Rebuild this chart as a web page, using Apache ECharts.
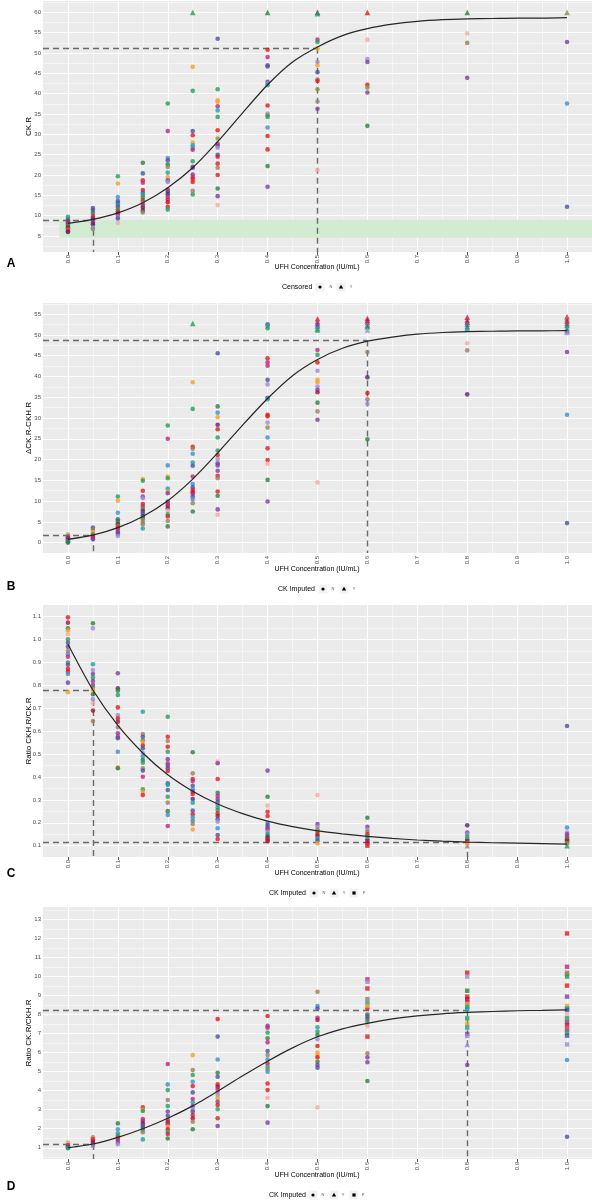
<!DOCTYPE html>
<html><head><meta charset="utf-8">
<script src="https://cdn.jsdelivr.net/npm/echarts@6/dist/echarts.min.js"></script>
<style>html,body{margin:0;padding:0;background:#fff}#c{width:592px;height:1200px}</style>
</head><body><div id="c"></div>
<script>
// ---------- colours (style) ----------
const palette = {r:'#E41A1C', R:'#A8123E', g:'#1FA05A', G:'#2A7F3E', t:'#1AA3A0', b:'#3B8ED3', n:'#4852A3', p:'#7A3E9D', l:'#9E8BD3', m:'#C2257A', o:'#F5A023', k:'#F7A8A8', w:'#A07A5C', v:'#8A8F3C', d:'#55286F', y:'#8C8C8C'};

// ---------- shared axis ----------
const xTicks = [0.0,0.1,0.2,0.3,0.4,0.5,0.6,0.7,0.8,0.9,1.0];
const xMinor = [0.05,0.15,0.25,0.35,0.45,0.55,0.65,0.75,0.85,0.95];
const xCurve = [0,0.05,0.1,0.15,0.2,0.25,0.3,0.35,0.4,0.45,0.5,0.55,0.6,0.65,0.7,0.75,0.8,0.85,0.9,0.95,1.0];

// ---------- Panel A : CK.R ----------
const aYTicks = [5,10,15,20,25,30,35,40,45,50,55,60];
const aYMinor = [2.5,7.5,12.5,17.5,22.5,27.5,32.5,37.5,42.5,47.5,52.5,57.5,62.5];
const aCurve = [8.1,9.1,10.7,13.2,16.9,21.8,28.2,35.3,42.2,47.8,51.5,54.3,56.0,57.1,57.8,58.2,58.4,58.5,58.6,58.6,58.7];
const aPoints = [
 [0,9.7,'g'],[0,9.2,'t'],[0,8.8,'p'],[0,8.5,'r'],[0,8.3,'n'],[0,8.0,'p'],[0,7.8,'m'],[0,7.5,'g'],[0,7.2,'G'],[0,7.0,'R'],[0,6.8,'r'],[0,6.5,'w'],[0,6.2,'r'],[0,6.0,'d'],
 [0.05,11.9,'n'],[0.05,11.4,'n'],[0.05,10.7,'G'],[0.05,9.9,'r'],[0.05,9.5,'p'],[0.05,9.1,'R'],[0.05,8.8,'m'],[0.05,8.3,'p'],[0.05,7.9,'d'],[0.05,7.0,'y'],[0.05,6.7,'y'],
 [0.1,19.7,'g'],[0.1,17.9,'o'],[0.1,14.6,'b'],[0.1,13.6,'n'],[0.1,13.1,'n'],[0.1,12.7,'t'],[0.1,12.2,'p'],[0.1,11.6,'g'],[0.1,11.0,'r'],[0.1,10.6,'R'],[0.1,10.2,'m'],[0.1,9.7,'l'],[0.1,9.3,'n'],[0.1,8.2,'k'],
 [0.15,23.0,'G'],[0.15,20.4,'n'],[0.15,18.7,'r'],[0.15,18.1,'m'],[0.15,16.3,'r'],[0.15,15.6,'n'],[0.15,15.0,'t'],[0.15,14.5,'g'],[0.15,13.8,'r'],[0.15,13.2,'w'],[0.15,12.6,'p'],[0.15,12.0,'R'],[0.15,11.3,'d'],[0.15,10.8,'v'],
 [0.2,37.6,'g'],[0.2,30.8,'m'],[0.2,24.2,'b'],[0.2,23.6,'n'],[0.2,22.6,'G'],[0.2,22.0,'v'],[0.2,20.6,'t'],[0.2,19.5,'o'],[0.2,18.7,'p'],[0.2,18.3,'l'],[0.2,16.4,'r'],[0.2,15.9,'n'],[0.2,15.3,'d'],[0.2,14.6,'m'],[0.2,14.0,'r'],[0.2,13.3,'R'],[0.2,12.2,'r'],[0.2,11.5,'g'],
 [0.25,60,'g','t'],[0.25,46.6,'o'],[0.25,40.7,'g'],[0.25,30.8,'n'],[0.25,29.8,'r'],[0.25,28.0,'o'],[0.25,27.3,'t'],[0.25,26.7,'b'],[0.25,26.2,'m'],[0.25,23.4,'g'],[0.25,22.0,'n'],[0.25,21.8,'p'],[0.25,20.1,'p'],[0.25,19.5,'m'],[0.25,19.0,'r'],[0.25,18.3,'r'],[0.25,16.1,'w'],[0.25,15.2,'g'],
 [0.3,53.5,'n'],[0.3,41.1,'g'],[0.3,38.4,'o'],[0.3,38.0,'o'],[0.3,36.9,'m'],[0.3,35.9,'t'],[0.3,34.3,'g'],[0.3,31.0,'r'],[0.3,29.0,'v'],[0.3,27.7,'m'],[0.3,27.2,'p'],[0.3,26.7,'l'],[0.3,25.0,'n'],[0.3,24.5,'r'],[0.3,22.8,'r'],[0.3,21.8,'w'],[0.3,20.0,'r'],[0.3,16.7,'G'],[0.3,14.8,'p'],[0.3,12.6,'k'],
 [0.4,60,'G','t'],[0.4,50.8,'r'],[0.4,49.0,'m'],[0.4,47.0,'p'],[0.4,46.7,'n'],[0.4,42.9,'p'],[0.4,42.5,'l'],[0.4,42.1,'t'],[0.4,37.1,'r'],[0.4,35.1,'l'],[0.4,34.7,'v'],[0.4,34.3,'g'],[0.4,31.7,'b'],[0.4,29.6,'r'],[0.4,26.3,'r'],[0.4,22.2,'G'],[0.4,17.1,'p'],
 [0.5,60,'d','t'],[0.5,59.7,'g','t'],[0.5,53.3,'m'],[0.5,52.7,'g'],[0.5,51.1,'o'],[0.5,47.8,'l'],[0.5,47.0,'o'],[0.5,45.3,'n'],[0.5,43.5,'w'],[0.5,43.1,'r'],[0.5,41.1,'v'],[0.5,38.1,'y'],[0.5,36.3,'p'],[0.5,21.2,'k'],
 [0.6,60,'r','t'],[0.6,53.3,'k'],[0.6,48.5,'l'],[0.6,47.8,'p'],[0.6,42.2,'r'],[0.6,41.5,'v'],[0.6,40.3,'p'],[0.6,32.1,'G'],
 [0.8,60,'G','t'],[0.8,54.8,'k'],[0.8,52.5,'w'],[0.8,43.9,'p'],
 [1.0,60,'v','t'],[1.0,52.7,'p'],[1.0,37.6,'b'],[1.0,12.2,'n']
];
const aRefLines = [[[-0.05,51.3],[0.5,51.3]],[[0.5,51.3],[0.5,1.07]],[[-0.05,9.0],[0.05,9.0]],[[0.05,9.0],[0.05,1.07]]];
const aBand = [[-0.017,4.55],[1.05,9.0]];

// ---------- Panel B : ΔCK.R-CKH.R ----------
const bYTicks = [0,5,10,15,20,25,30,35,40,45,50,55];
const bYMinor = [2.5,7.5,12.5,17.5,22.5,27.5,32.5,37.5,42.5,47.5,52.5,57.5];
const bCurve = [0.8,1.8,3.6,6.3,10.1,15.3,21.6,28.3,34.7,40.2,44.1,46.8,48.5,49.5,50.2,50.6,50.8,50.9,51.0,51.0,51.05];
const bPoints = [
 [0,2.0,'o'],[0,1.6,'b'],[0,1.3,'p'],[0,1.1,'n'],[0,0.9,'r'],[0,0.7,'R'],[0,0.5,'m'],[0,0.3,'g'],[0,0.1,'t'],[0,0.0,'G'],
 [0.05,3.6,'n'],[0.05,3.1,'w'],[0.05,2.5,'o'],[0.05,2.0,'g'],[0.05,1.6,'r'],[0.05,1.2,'m'],[0.05,0.8,'p'],
 [0.1,11.1,'g'],[0.1,10.1,'o'],[0.1,7.2,'b'],[0.1,5.6,'n'],[0.1,5.2,'G'],[0.1,4.8,'g'],[0.1,4.4,'R'],[0.1,4.0,'v'],[0.1,3.6,'r'],[0.1,3.1,'m'],[0.1,2.5,'p'],[0.1,2.1,'n'],[0.1,1.6,'l'],
 [0.15,15.3,'o'],[0.15,14.9,'g'],[0.15,12.5,'r'],[0.15,11.1,'p'],[0.15,10.7,'l'],[0.15,9.3,'r'],[0.15,8.7,'m'],[0.15,8.1,'g'],[0.15,7.6,'R'],[0.15,7.1,'n'],[0.15,6.4,'d'],[0.15,5.9,'G'],[0.15,5.5,'v'],[0.15,4.9,'w'],[0.15,4.4,'w'],[0.15,3.4,'t'],
 [0.2,28.2,'g'],[0.2,25.0,'m'],[0.2,18.6,'b'],[0.2,15.9,'o'],[0.2,15.5,'g'],[0.2,13.0,'t'],[0.2,12.3,'o'],[0.2,11.9,'p'],[0.2,9.9,'n'],[0.2,9.3,'r'],[0.2,8.9,'m'],[0.2,8.3,'d'],[0.2,7.7,'k'],[0.2,6.8,'g'],[0.2,6.3,'r'],[0.2,5.2,'w'],[0.2,3.9,'G'],
 [0.25,52.8,'g','t'],[0.25,38.6,'o'],[0.25,32.2,'g'],[0.25,23.1,'r'],[0.25,22.6,'w'],[0.25,21.4,'b'],[0.25,19.3,'t'],[0.25,18.5,'n'],[0.25,15.9,'m'],[0.25,14.1,'b'],[0.25,13.3,'n'],[0.25,12.7,'r'],[0.25,12.1,'R'],[0.25,11.7,'m'],[0.25,11.1,'p'],[0.25,10.5,'b'],[0.25,9.5,'w'],[0.25,7.5,'G'],
 [0.3,45.6,'n'],[0.3,32.8,'G'],[0.3,31.3,'b'],[0.3,30.2,'o'],[0.3,28.4,'d'],[0.3,27.3,'r'],[0.3,25.3,'g'],[0.3,22.2,'g'],[0.3,21.1,'r'],[0.3,20.1,'l'],[0.3,19.1,'p'],[0.3,18.6,'p'],[0.3,17.3,'p'],[0.3,16.1,'r'],[0.3,15.5,'w'],[0.3,12.3,'r'],[0.3,11.3,'G'],[0.3,8.0,'p'],[0.3,6.7,'k'],
 [0.4,52.6,'n'],[0.4,52.2,'t'],[0.4,51.6,'g'],[0.4,44.4,'r'],[0.4,43.4,'m'],[0.4,42.6,'m'],[0.4,39.2,'n'],[0.4,38.1,'l'],[0.4,34.9,'n'],[0.4,34.5,'t'],[0.4,30.8,'r'],[0.4,30.4,'r'],[0.4,28.9,'l'],[0.4,27.7,'v'],[0.4,25.3,'b'],[0.4,22.7,'r'],[0.4,19.9,'r'],[0.4,19.0,'k'],[0.4,15.1,'G'],[0.4,9.9,'p'],
 [0.5,53.9,'r','t'],[0.5,53.2,'m','t'],[0.5,52.7,'n','t'],[0.5,52.2,'p','t'],[0.5,51.6,'t','t'],[0.5,51.2,'g','t'],[0.5,46.4,'m'],[0.5,45.2,'g'],[0.5,43.4,'r'],[0.5,41.4,'l'],[0.5,39.2,'o'],[0.5,38.6,'o'],[0.5,37.6,'l'],[0.5,36.8,'p'],[0.5,36.2,'R'],[0.5,33.7,'G'],[0.5,31.6,'w'],[0.5,29.6,'p'],[0.5,14.5,'k'],
 [0.6,54.0,'r','t'],[0.6,53.5,'R','t'],[0.6,53.0,'m','t'],[0.6,52.4,'t','t'],[0.6,52.0,'G','t'],[0.6,51.2,'l','t'],[0.6,45.9,'w'],[0.6,39.8,'d'],[0.6,36.0,'r'],[0.6,34.5,'w'],[0.6,33.4,'l'],[0.6,24.9,'G'],
 [0.8,54.3,'r','t'],[0.8,53.6,'m','t'],[0.8,53.1,'R','t'],[0.8,52.6,'g','t'],[0.8,52.0,'n','t'],[0.8,51.5,'t','t'],[0.8,48.0,'k'],[0.8,46.3,'w'],[0.8,35.7,'d'],
 [1.0,54.4,'r','t'],[1.0,53.9,'w','t'],[1.0,53.4,'R','t'],[1.0,52.8,'m','t'],[1.0,52.3,'G','t'],[1.0,51.6,'t','t'],[1.0,51.0,'n','t'],[1.0,50.6,'l','t'],[1.0,45.9,'p'],[1.0,30.8,'b'],[1.0,4.7,'n']
];
const bRefLines = [[[-0.05,48.7],[0.6,48.7]],[[0.6,48.7],[0.6,-2.5]],[[-0.05,1.8],[0.05,1.8]],[[0.05,1.8],[0.05,-2.5]]];

// ---------- Panel C : Ratio CKH.R/CK.R ----------
const cYTicks = [0.1,0.2,0.3,0.4,0.5,0.6,0.7,0.8,0.9,1.0,1.1];
const cYMinor = [0.15,0.25,0.35,0.45,0.55,0.65,0.75,0.85,0.95,1.05];
const cCurve = [0.98,0.78,0.625,0.505,0.41,0.338,0.282,0.24,0.207,0.183,0.165,0.152,0.141,0.132,0.125,0.12,0.116,0.113,0.111,0.109,0.107];
const cPoints = [
 [0,1.097,'r'],[0,1.074,'R'],[0,1.049,'G'],[0,1.04,'o'],[0,1.023,'k'],[0,1.001,'g'],[0,0.986,'n'],[0,0.969,'p'],[0,0.95,'w'],[0,0.937,'b'],[0,0.925,'m'],[0,0.90,'g'],[0,0.89,'p'],[0,0.872,'r'],[0,0.86,'r'],[0,0.85,'b'],[0,0.812,'p'],[0,0.77,'o'],
 [0.05,1.071,'G'],[0.05,1.049,'l'],[0.05,0.892,'t'],[0.05,0.867,'l'],[0.05,0.85,'p'],[0.05,0.834,'g'],[0.05,0.819,'p'],[0.05,0.802,'m'],[0.05,0.79,'g'],[0.05,0.78,'o'],[0.05,0.761,'G'],[0.05,0.74,'l'],[0.05,0.722,'k'],[0.05,0.69,'R'],[0.05,0.644,'w'],
 [0.1,0.853,'p'],[0.1,0.787,'d'],[0.1,0.777,'G'],[0.1,0.758,'g'],[0.1,0.704,'r'],[0.1,0.671,'l'],[0.1,0.656,'r'],[0.1,0.641,'R'],[0.1,0.617,'w'],[0.1,0.591,'p'],[0.1,0.576,'m'],[0.1,0.569,'n'],[0.1,0.51,'b'],[0.1,0.442,'o'],[0.1,0.438,'G'],
 [0.15,0.685,'t'],[0.15,0.588,'w'],[0.15,0.576,'p'],[0.15,0.561,'g'],[0.15,0.551,'o'],[0.15,0.537,'r'],[0.15,0.525,'n'],[0.15,0.503,'l'],[0.15,0.489,'b'],[0.15,0.474,'G'],[0.15,0.462,'g'],[0.15,0.438,'w'],[0.15,0.428,'n'],[0.15,0.401,'m'],[0.15,0.346,'g'],[0.15,0.336,'o'],[0.15,0.321,'r'],
 [0.2,0.663,'g'],[0.2,0.576,'r'],[0.2,0.557,'w'],[0.2,0.532,'r'],[0.2,0.51,'g'],[0.2,0.478,'p'],[0.2,0.46,'m'],[0.2,0.449,'n'],[0.2,0.438,'p'],[0.2,0.426,'r'],[0.2,0.372,'n'],[0.2,0.365,'t'],[0.2,0.343,'n'],[0.2,0.314,'g'],[0.2,0.288,'w'],[0.2,0.251,'G'],[0.2,0.234,'b'],[0.2,0.186,'m'],
 [0.25,0.508,'G'],[0.25,0.416,'w'],[0.25,0.391,'r'],[0.25,0.382,'m'],[0.25,0.362,'n'],[0.25,0.346,'b'],[0.25,0.336,'p'],[0.25,0.326,'r'],[0.25,0.304,'d'],[0.25,0.288,'t'],[0.25,0.253,'n'],[0.25,0.237,'r'],[0.25,0.224,'b'],[0.25,0.209,'g'],[0.25,0.195,'w'],[0.25,0.171,'o'],
 [0.3,0.467,'k'],[0.3,0.46,'p'],[0.3,0.391,'r'],[0.3,0.331,'G'],[0.3,0.318,'m'],[0.3,0.304,'p'],[0.3,0.292,'n'],[0.3,0.28,'w'],[0.3,0.267,'t'],[0.3,0.256,'g'],[0.3,0.241,'r'],[0.3,0.23,'R'],[0.3,0.215,'n'],[0.3,0.205,'l'],[0.3,0.176,'b'],[0.3,0.147,'n'],[0.3,0.129,'r'],
 [0.4,0.428,'p'],[0.4,0.314,'G'],[0.4,0.275,'k'],[0.4,0.248,'r'],[0.4,0.23,'r'],[0.4,0.2,'b'],[0.4,0.19,'n'],[0.4,0.18,'p'],[0.4,0.171,'m'],[0.4,0.161,'l'],[0.4,0.151,'t'],[0.4,0.142,'G'],[0.4,0.135,'d'],[0.4,0.128,'r'],[0.4,0.12,'R'],
 [0.5,0.321,'k'],[0.5,0.195,'p'],[0.5,0.183,'l'],[0.5,0.171,'w'],[0.5,0.161,'g'],[0.5,0.151,'r'],[0.5,0.142,'R'],[0.5,0.132,'t'],[0.5,0.122,'n'],[0.5,0.11,'o'],
 [0.6,0.222,'G'],[0.6,0.183,'p'],[0.6,0.171,'l'],[0.6,0.161,'w'],[0.6,0.15,'r'],[0.6,0.139,'g'],[0.6,0.129,'t'],[0.6,0.12,'R','s'],[0.6,0.11,'m'],[0.6,0.1,'r','s'],
 [0.8,0.189,'d'],[0.8,0.158,'p'],[0.8,0.15,'l'],[0.8,0.139,'g'],[0.8,0.129,'t'],[0.8,0.12,'R','s'],[0.8,0.11,'o','s'],[0.8,0.1,'l','t'],
 [1.0,0.623,'n'],[1.0,0.179,'b'],[1.0,0.158,'l'],[1.0,0.15,'p'],[1.0,0.139,'m'],[1.0,0.129,'G','s'],[1.0,0.12,'R','s'],[1.0,0.11,'v','s'],[1.0,0.1,'g','t']
];
const cRefLines = [[[-0.05,0.78],[0.05,0.78]],[[0.05,0.78],[0.05,0.0507]],[[-0.05,0.117],[0.8,0.117]],[[0.8,0.117],[0.8,0.0507]]];

// ---------- Panel D : Ratio CK.R/CKH.R ----------
const dYTicks = [1,2,3,4,5,6,7,8,9,10,11,12,13];
const dYMinor = [0.5,1.5,2.5,3.5,4.5,5.5,6.5,7.5,8.5,9.5,10.5,11.5,12.5,13.5];
const dCurve = [1.0,1.2,1.55,2.0,2.55,3.2,3.97,4.78,5.55,6.25,6.83,7.25,7.54,7.77,7.93,8.04,8.11,8.16,8.2,8.22,8.24];
const dPoints = [
 [0,1.28,'o'],[0,1.2,'k'],[0,1.14,'p'],[0,1.08,'r'],[0,1.02,'n'],[0,0.97,'g'],
 [0.05,1.55,'w'],[0.05,1.48,'o'],[0.05,1.44,'m'],[0.05,1.35,'r'],[0.05,1.27,'R'],[0.05,1.18,'n'],[0.05,1.09,'y'],
 [0.1,2.28,'G'],[0.1,1.97,'b'],[0.1,1.76,'t'],[0.1,1.63,'g'],[0.1,1.53,'r'],[0.1,1.41,'m'],[0.1,1.28,'p'],[0.1,1.18,'l'],
 [0.15,3.12,'r'],[0.15,3.0,'o'],[0.15,2.93,'g'],[0.15,2.51,'m'],[0.15,2.4,'p'],[0.15,2.28,'R'],[0.15,2.16,'n'],[0.15,2.05,'n'],[0.15,1.93,'g'],[0.15,1.81,'w'],[0.15,1.44,'t'],
 [0.2,5.4,'m'],[0.2,4.33,'b'],[0.2,4.03,'g'],[0.2,3.51,'w'],[0.2,3.19,'g'],[0.2,2.9,'p'],[0.2,2.68,'n'],[0.2,2.46,'r'],[0.2,2.33,'R'],[0.2,2.23,'m'],[0.2,2.11,'o'],[0.2,1.97,'r'],[0.2,1.84,'t'],[0.2,1.72,'r'],[0.2,1.49,'G'],
 [0.25,5.87,'o'],[0.25,5.08,'w'],[0.25,4.82,'g'],[0.25,4.47,'b'],[0.25,4.24,'r'],[0.25,3.91,'n'],[0.25,3.56,'m'],[0.25,3.39,'t'],[0.25,3.19,'p'],[0.25,3.03,'l'],[0.25,2.9,'n'],[0.25,2.72,'r'],[0.25,2.55,'R'],[0.25,2.37,'w'],[0.25,1.97,'G'],
 [0.3,7.76,'r'],[0.3,6.84,'n'],[0.3,5.64,'b'],[0.3,4.94,'G'],[0.3,4.73,'n'],[0.3,4.33,'r'],[0.3,4.2,'R'],[0.3,4.09,'m'],[0.3,3.95,'w'],[0.3,3.77,'l'],[0.3,3.6,'o'],[0.3,3.42,'p'],[0.3,3.25,'r'],[0.3,3.02,'g'],[0.3,2.55,'r'],[0.3,2.14,'p'],
 [0.4,7.92,'r'],[0.4,7.41,'p'],[0.4,7.31,'m'],[0.4,7.05,'g'],[0.4,6.75,'G'],[0.4,6.54,'m'],[0.4,6.08,'n'],[0.4,5.87,'w'],[0.4,5.64,'b'],[0.4,5.43,'r'],[0.4,5.26,'t'],[0.4,5.14,'v'],[0.4,5.0,'b'],[0.4,4.38,'r'],[0.4,4.03,'r'],[0.4,3.63,'k'],[0.4,3.19,'G'],[0.4,2.32,'p'],
 [0.5,9.2,'w'],[0.5,8.45,'b'],[0.5,8.32,'n'],[0.5,7.83,'m'],[0.5,7.71,'R'],[0.5,7.33,'t'],[0.5,7.1,'g'],[0.5,6.92,'G'],[0.5,6.7,'l'],[0.5,6.35,'r'],[0.5,6.0,'o'],[0.5,5.87,'o'],[0.5,5.75,'r'],[0.5,5.52,'G'],[0.5,5.35,'p'],[0.5,5.21,'n'],[0.5,3.12,'k'],
 [0.6,9.85,'m','s'],[0.6,9.72,'l','s'],[0.6,9.37,'r','s'],[0.6,8.81,'w','s'],[0.6,8.59,'t','s'],[0.6,8.45,'o','s'],[0.6,8.32,'r'],[0.6,8.0,'n'],[0.6,7.89,'G'],[0.6,7.76,'p'],[0.6,7.62,'g'],[0.6,7.4,'k'],[0.6,6.84,'r','s'],[0.6,5.96,'w'],[0.6,5.75,'p'],[0.6,5.49,'p'],[0.6,4.51,'G'],
 [0.8,10.2,'r','s'],[0.8,9.99,'l','s'],[0.8,9.25,'G','s'],[0.8,8.94,'r','s'],[0.8,8.8,'R','s'],[0.8,8.67,'m','s'],[0.8,8.55,'o','s'],[0.8,8.41,'g','s'],[0.8,8.29,'t','s'],[0.8,7.8,'g','s'],[0.8,7.5,'o','s'],[0.8,7.31,'t','s'],[0.8,6.98,'p','s'],[0.8,6.87,'l','s'],[0.8,6.43,'l','t'],[0.8,5.35,'p'],
 [1.0,12.26,'r','s'],[1.0,10.51,'m','s'],[1.0,10.2,'w','s'],[1.0,10.11,'v','s'],[1.0,9.99,'g','s'],[1.0,9.52,'r','s'],[1.0,8.94,'p','s'],[1.0,8.45,'o','s'],[1.0,8.32,'t','s'],[1.0,8.24,'n','s'],[1.0,8.0,'k'],[1.0,7.8,'g','s'],[1.0,7.59,'p','s'],[1.0,7.45,'r','s'],[1.0,7.22,'m','s'],[1.0,7.05,'g','s'],[1.0,6.89,'n','s'],[1.0,6.43,'l','s'],[1.0,5.61,'b'],[1.0,1.58,'n']
];
const dRefLines = [[[-0.05,1.2],[0.05,1.2]],[[0.05,1.2],[0.05,0.41]],[[-0.05,8.23],[0.8,8.23]],[[0.8,8.23],[0.8,0.41]]];

// ---------- panels (layout) ----------
const FONT = '"Liberation Sans", Arial, sans-serif';
const panels = [
  {top:1, height:251, min:1.07, max:62.8, yTicks:aYTicks, yMinor:aYMinor, curve:aCurve, pts:aPoints, refs:aRefLines, band:aBand, dec:0,
   yTitle:'CK.R', letter:'A', letterY:264, titleY:267, legY:287, legTitle:'Censored', legX:282, keys:[[320,'circle','N',331],[341,'triangle','Y',351]]},
  {top:303, height:250, min:-2.5, max:57.7, yTicks:bYTicks, yMinor:bYMinor, curve:bCurve, pts:bPoints, refs:bRefLines, dec:0,
   yTitle:'ΔCK.R-CKH.R', letter:'B', letterY:587, titleY:569, legY:589, legTitle:'CK Imputed', legX:278, keys:[[323,'circle','N',333],[344,'triangle','Y',354]]},
  {top:605, height:252, min:0.0507, max:1.151, yTicks:cYTicks, yMinor:cYMinor, curve:cCurve, pts:cPoints, refs:cRefLines, dec:1,
   yTitle:'Ratio CKH.R/CK.R', letter:'C', letterY:874, titleY:873, legY:893, legTitle:'CK Imputed', legX:269, keys:[[314,'circle','N',324],[334,'triangle','Y',344],[354,'rect','P',364]]},
  {top:907, height:252, min:0.41, max:13.65, yTicks:dYTicks, yMinor:dYMinor, curve:dCurve, pts:dPoints, refs:dRefLines, dec:0,
   yTitle:'Ratio CK.R/CKH.R', letter:'D', letterY:1187, titleY:1175, legY:1195, legTitle:'CK Imputed', legX:269, keys:[[313,'circle','N',323],[334,'triangle','Y',343],[354,'rect','P',363]]}
];

const grids=[], xAxes=[], yAxes=[], series=[], graphics=[];
const shapeMap = {c:'circle', t:'triangle', s:'rect'};
const sizeMap = {c:4.6, t:5.6, s:4.4};

panels.forEach((P,i)=>{
  grids.push({left:43, width:550, top:P.top, height:P.height, show:true, backgroundColor:'#EBEBEB', borderWidth:0});
  xAxes.push({gridIndex:i, type:'value', min:-0.05, max:1.05,
    axisLine:{show:false}, splitLine:{show:false},
    axisTick:{show:true, length:3, lineStyle:{color:'#333', width:0.8}, customValues:xTicks},
    axisLabel:{customValues:xTicks, rotate:90, fontSize:6, color:'#4D4D4D', margin:3, fontFamily:FONT, formatter:v=>Number(v).toFixed(1)}});
  yAxes.push({gridIndex:i, type:'value', min:P.min, max:P.max,
    axisLine:{show:false}, splitLine:{show:false},
    axisTick:{show:true, length:3, lineStyle:{color:'#333', width:0.8}, customValues:P.yTicks},
    axisLabel:{customValues:P.yTicks, fontSize:6, color:'#4D4D4D', margin:2, fontFamily:FONT, formatter:v=>Number(v).toFixed(P.dec)}});

  // grid lines
  const gl = [];
  P.yMinor.forEach(v=>gl.push({yAxis:v, lineStyle:{width:0.5}}));
  xMinor.forEach(v=>gl.push({xAxis:v, lineStyle:{width:0.5}}));
  P.yTicks.forEach(v=>gl.push({yAxis:v, lineStyle:{width:1.1}}));
  xTicks.forEach(v=>gl.push({xAxis:v, lineStyle:{width:1.1}}));
  series.push({type:'line', xAxisIndex:i, yAxisIndex:i, data:[], silent:true, z:1,
    markLine:{silent:true, symbol:['none','none'], z:1, label:{show:false}, animation:false,
      lineStyle:{color:'#FFFFFF', type:'solid'}, data:gl}});
  if (P.band) {
    series.push({type:'line', xAxisIndex:i, yAxisIndex:i, data:[], silent:true, z:1,
      markArea:{silent:true, z:1.5, itemStyle:{color:'#D3EBD3'}, label:{show:false},
        data:[[{coord:P.band[0]},{coord:P.band[1]}]]}});
  }
  // reference dashed lines
  series.push({type:'line', xAxisIndex:i, yAxisIndex:i, data:[], silent:true, z:2,
    markLine:{silent:true, symbol:['none','none'], z:2, label:{show:false}, animation:false,
      lineStyle:{color:'#6A6A6A', width:1.4, type:[6,4]},
      data:P.refs.map(s=>[{coord:s[0]},{coord:s[1]}])}});
  // points by shape
  ['c','t','s'].forEach(sh=>{
    const d = P.pts.filter(q=>(q[3]||'c')===sh).map(q=>({value:[q[0],q[1]], itemStyle:{color:palette[q[2]]}}));
    if (d.length) series.push({type:'scatter', xAxisIndex:i, yAxisIndex:i, symbol:shapeMap[sh], symbolSize:sizeMap[sh], data:d, z:3, silent:true});
  });
  // fitted curve
  series.push({type:'line', xAxisIndex:i, yAxisIndex:i, data:xCurve.map((x,j)=>[x,P.curve[j]]), showSymbol:false, symbol:'none',
    smooth:0.25, lineStyle:{color:'#262626', width:1.2}, z:4, silent:true});

  // texts
  const mid = P.top + P.height/2;
  graphics.push({type:'text', x:29, y:mid, rotation:Math.PI/2,
    style:{text:P.yTitle, font:'8px '+FONT, fill:'#000', align:'center', verticalAlign:'middle', textAlign:'center', textVerticalAlign:'middle'}});
  graphics.push({type:'text', x:317, y:P.titleY,
    style:{text:'UFH Concentration (IU/mL)', font:'7px '+FONT, fill:'#000', align:'center', verticalAlign:'middle', textAlign:'center', textVerticalAlign:'middle'}});
  graphics.push({type:'text', x:11, y:P.letterY,
    style:{text:P.letter, font:'bold 12px '+FONT, fill:'#000', align:'center', verticalAlign:'middle', textAlign:'center', textVerticalAlign:'middle'}});
  // legend
  graphics.push({type:'text', x:P.legX, y:P.legY,
    style:{text:P.legTitle, font:'7px '+FONT, fill:'#000', align:'left', verticalAlign:'middle', textAlign:'left', textVerticalAlign:'middle'}});
  P.keys.forEach(k=>{
    const cx=k[0], cy=P.legY;
    graphics.push({type:'rect', shape:{x:cx-4.5, y:cy-4.5, width:9, height:9}, style:{fill:'#F2F2F2'}});
    if (k[1]==='circle') graphics.push({type:'circle', shape:{cx:cx, cy:cy, r:1.6}, style:{fill:'#000'}});
    else if (k[1]==='triangle') graphics.push({type:'polygon', shape:{points:[[cx,cy-2.2],[cx-2.2,cy+1.6],[cx+2.2,cy+1.6]]}, style:{fill:'#000'}});
    else graphics.push({type:'rect', shape:{x:cx-1.6, y:cy-1.6, width:3.2, height:3.2}, style:{fill:'#000'}});
    graphics.push({type:'text', x:k[3], y:cy,
      style:{text:k[2], font:'4px '+FONT, fill:'#555', align:'center', verticalAlign:'middle', textAlign:'center', textVerticalAlign:'middle'}});
  });
});

const chart = echarts.init(document.getElementById('c'), null, {renderer:'canvas'});
chart.setOption({animation:false, backgroundColor:'#FFFFFF', grid:grids, xAxis:xAxes, yAxis:yAxes, series:series, graphic:{elements:graphics}});
</script></body></html>
